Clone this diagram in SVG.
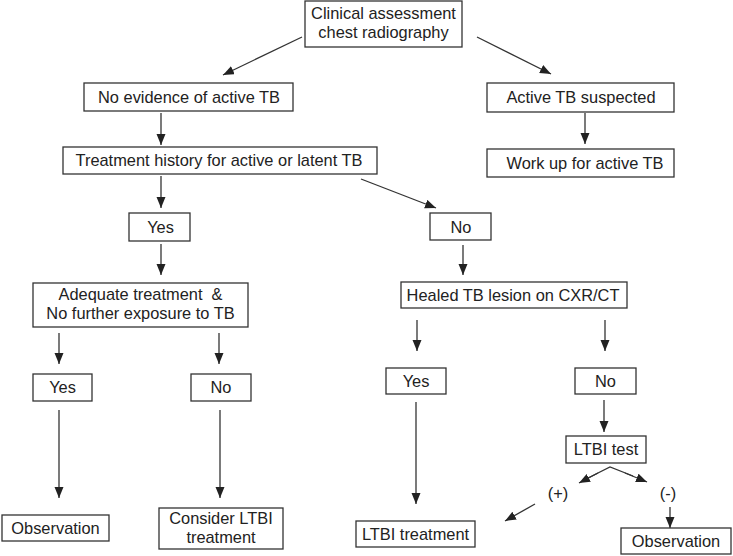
<svg xmlns="http://www.w3.org/2000/svg" width="733" height="556" viewBox="0 0 733 556">
<style>
  .box { fill: #ffffff; stroke: #333333; stroke-width: 1.3; }
  .t { font-family: "Liberation Sans", Arial, sans-serif; font-size: 16.4px; fill: #222222; text-anchor: middle; }
  .c { stroke: #333333; stroke-width: 1.3; fill: none; marker-end: url(#ah); }
</style>
<defs>
  <marker id="ah" markerUnits="userSpaceOnUse" markerWidth="11" markerHeight="10" refX="11" refY="4.5" orient="auto">
    <path d="M0,0 L11,4.5 L0,9 z" fill="#222222"/>
  </marker>
</defs>
<rect width="733" height="556" fill="#ffffff"/>
<g id="connectors">
  <line class="c" x1="302" y1="37" x2="223" y2="75"/>
  <line class="c" x1="477" y1="37" x2="551" y2="74"/>
  <line class="c" x1="161" y1="113" x2="161" y2="145"/>
  <line class="c" x1="585" y1="113" x2="585" y2="144"/>
  <line class="c" x1="161" y1="176" x2="161" y2="208"/>
  <line class="c" x1="361" y1="179" x2="436" y2="208"/>
  <line class="c" x1="161" y1="244" x2="161" y2="275"/>
  <line class="c" x1="463" y1="245" x2="463" y2="275"/>
  <line class="c" x1="59" y1="333" x2="59" y2="364"/>
  <line class="c" x1="219" y1="333" x2="219" y2="364"/>
  <line class="c" x1="417" y1="320" x2="417" y2="351"/>
  <line class="c" x1="605" y1="320" x2="605" y2="351"/>
  <line class="c" x1="59" y1="410" x2="59" y2="498"/>
  <line class="c" x1="220" y1="410" x2="220" y2="498"/>
  <line class="c" x1="416" y1="402" x2="416" y2="504"/>
  <line class="c" x1="604" y1="400" x2="604" y2="432"/>
  <polyline points="588,478 610,467 633,476" fill="none" stroke="#333333" stroke-width="1.3"/>
  <line class="c" x1="598" y1="473" x2="579" y2="483"/>
  <line class="c" x1="625" y1="473" x2="647" y2="482"/>
  <line class="c" x1="535" y1="504" x2="505" y2="521"/>
  <line class="c" x1="670" y1="507" x2="670" y2="528"/>
</g>
<g id="n-clinical">
  <rect class="box" x="305" y="1" width="157" height="46"/>
  <text class="t" x="383.5" y="19">Clinical assessment</text>
  <text class="t" x="383.5" y="38">chest radiography</text>
</g>
<g id="n-noevidence">
  <rect class="box" x="84" y="83" width="209" height="28"/>
  <text class="t" x="189" y="103">No evidence of active TB</text>
</g>
<g id="n-activesuspected">
  <rect class="box" x="487" y="83" width="187" height="29"/>
  <text class="t" x="581" y="103">Active TB suspected</text>
</g>
<g id="n-history">
  <rect class="box" x="63" y="147" width="314" height="27"/>
  <text class="t" x="219" y="166">Treatment history for active or latent TB</text>
</g>
<g id="n-workup">
  <rect class="box" x="487" y="149" width="187" height="28"/>
  <text class="t" x="585" y="169">Work up for active TB</text>
</g>
<g id="n-yes1">
  <rect class="box" x="129" y="213" width="61" height="28"/>
  <text class="t" x="160.5" y="233">Yes</text>
</g>
<g id="n-no1">
  <rect class="box" x="430" y="213" width="61" height="27"/>
  <text class="t" x="461" y="233">No</text>
</g>
<g id="n-adequate">
  <rect class="box" x="33" y="283" width="215" height="44"/>
  <text class="t" x="140.5" y="300" xml:space="preserve">Adequate treatment  &amp;</text>
  <text class="t" x="140.5" y="319">No further exposure to TB</text>
</g>
<g id="n-healed">
  <rect class="box" x="401" y="282" width="226" height="26"/>
  <text class="t" x="513" y="301">Healed TB lesion on CXR/CT</text>
</g>
<g id="n-yes2l">
  <rect class="box" x="33" y="374" width="59" height="27"/>
  <text class="t" x="62.5" y="393">Yes</text>
</g>
<g id="n-no2l">
  <rect class="box" x="191" y="374" width="60" height="27"/>
  <text class="t" x="221" y="393">No</text>
</g>
<g id="n-yes2r">
  <rect class="box" x="386" y="368" width="60" height="26"/>
  <text class="t" x="416" y="387">Yes</text>
</g>
<g id="n-no2r">
  <rect class="box" x="575" y="368" width="61" height="26"/>
  <text class="t" x="605.5" y="387">No</text>
</g>
<g id="n-observation1">
  <rect class="box" x="2" y="515" width="107" height="26"/>
  <text class="t" x="55.5" y="534">Observation</text>
</g>
<g id="n-consider">
  <rect class="box" x="159" y="508" width="124" height="41"/>
  <text class="t" x="221" y="524">Consider LTBI</text>
  <text class="t" x="221" y="543">treatment</text>
</g>
<g id="n-ltbitest">
  <rect class="box" x="566" y="436" width="80" height="27"/>
  <text class="t" x="606" y="455">LTBI test</text>
</g>
<g id="n-ltbitreatment">
  <rect class="box" x="356" y="521" width="119" height="26"/>
  <text class="t" x="415.5" y="540">LTBI treatment</text>
</g>
<g id="n-observation2">
  <rect class="box" x="621" y="528" width="110" height="26"/>
  <text class="t" x="676" y="547">Observation</text>
</g>
<g id="labels">
  <text class="t" x="558" y="499">(+)</text>
  <text class="t" x="668" y="499">(-)</text>
</g>
</svg>
